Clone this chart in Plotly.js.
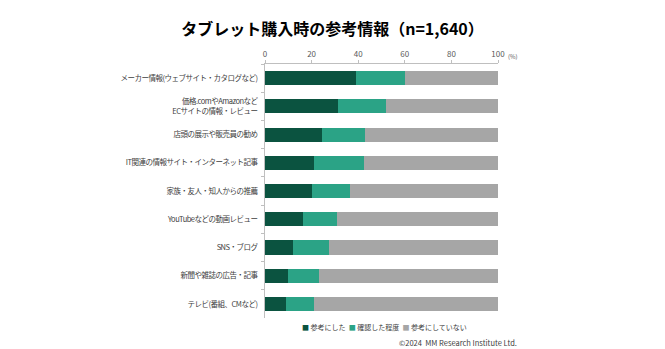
<!DOCTYPE html>
<html>
<head>
<meta charset="utf-8">
<script src="https://cdn.plot.ly/plotly-3.0.1.min.js"></script>
<style>
html,body{margin:0;padding:0;background:#fff;}
#chart{width:665px;height:349px;}
#chart .ytick text{letter-spacing:-0.5px;}
</style>
</head>
<body>
<div id="chart"></div>
<script>
const categories = [
  "メーカー情報(ウェブサイト・カタログなど)",
  "価格.comやAmazonなど<br>ECサイトの情報・レビュー",
  "店頭の展示や販売員の勧め",
  "IT関連の情報サイト・インターネット記事",
  "家族・友人・知人からの推薦",
  "YouTubeなどの動画レビュー",
  "SNS・ブログ",
  "新聞や雑誌の広告・記事",
  "テレビ(番組、CMなど)"
];
const seriesNames = ["参考にした", "確認した程度", "参考にしていない"];
const referred = [39.1, 31.2, 24.6, 21.1, 20.2, 16.5, 12.0, 9.7, 9.0];
const checked  = [21.1, 20.6, 18.4, 21.2, 16.2, 14.4, 15.5, 13.5, 12.2];
const notUsed  = [39.8, 48.2, 57.0, 57.7, 63.6, 69.1, 72.5, 76.8, 78.8];
const xTicks = [0, 20, 40, 60, 80, 100];

const colors = ["#0b5340", "#2ba386", "#a6a6a6"];
const font = "'Noto Sans CJK JP', 'Noto Sans', sans-serif";
const data = [referred, checked, notUsed].map((v, i) => ({
  type: "bar", orientation: "h", name: seriesNames[i],
  x: v, y: categories, marker: {color: colors[i], line: {width: 0}},
  hoverinfo: "x+name", showlegend: false
}));

const legendText = seriesNames.map((n, i) =>
  `<span style="color:${colors[i]}">■</span> ${n}`).join("  ");

const layout = {
  width: 665, height: 349,
  margin: {l: 265, r: 167, t: 64, b: 31},
  barmode: "stack", bargap: 0.5,
  paper_bgcolor: "#fff", plot_bgcolor: "#fff",
  font: {family: font, size: 9, color: "#404040"},
  showlegend: false,
  title: {text: "<b>タブレット購入時の参考情報（n=1,640）</b>", x: 0.5, xanchor: "center", y: 0.915, yanchor: "middle",
          font: {family: font, size: 16, color: "#000"}},
  xaxis: {side: "top", range: [0, 100], tickvals: xTicks, ticktext: xTicks.map(String),
          showgrid: false, zeroline: false, showline: true, linecolor: "#bfbfbf", linewidth: 1,
          ticks: "outside", ticklen: 3, tickcolor: "#bfbfbf",
          tickfont: {size: 8, color: "#595959"}, fixedrange: true},
  yaxis: {autorange: "reversed", type: "category", showgrid: false, zeroline: false,
          showline: true, linecolor: "#bfbfbf", linewidth: 1,
          ticks: "outside", tickson: "boundaries", ticklen: 3, tickcolor: "#bfbfbf",
          ticklabelstandoff: 5,
          tickfont: {size: 7.5, color: "#404040"}, fixedrange: true},
  annotations: [
    {text: "(%)", xref: "paper", yref: "paper", x: 1.035, y: 1, yshift: 8, xanchor: "left", yanchor: "middle",
     showarrow: false, font: {size: 6, color: "#595959"}},
    {text: legendText, xref: "paper", yref: "paper", x: 0.15, y: 0, yshift: -9, xanchor: "left", yanchor: "middle",
     showarrow: false, font: {size: 7, color: "#404040"}},
    {text: "©2024  MM Research Institute Ltd.", xref: "paper", yref: "paper", x: 1.09, y: 0, yshift: -24,
     xanchor: "right", yanchor: "middle", showarrow: false, font: {size: 7.5, color: "#404040"}}
  ]
};
Plotly.newPlot("chart", data, layout, {staticPlot: true});
</script>
</body>
</html>
